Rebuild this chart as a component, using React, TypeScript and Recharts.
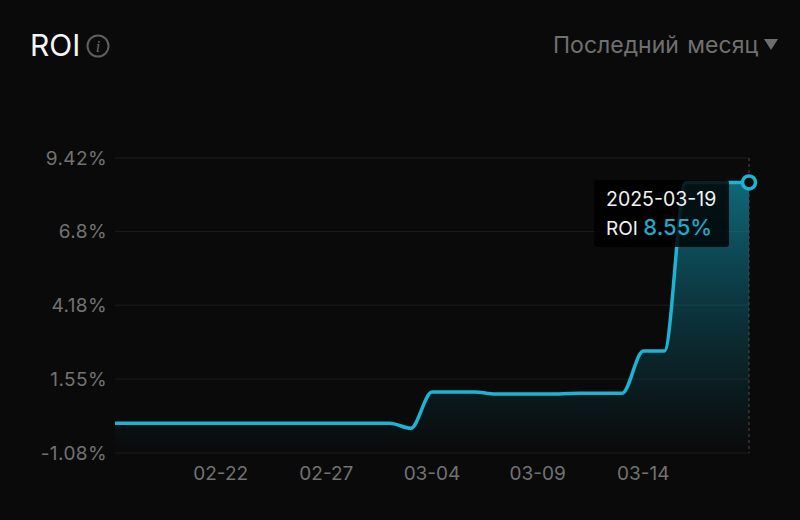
import React from "react";
import {
  AreaChart,
  Area,
  XAxis,
  YAxis,
  CartesianGrid,
  Tooltip,
} from "recharts";

const dates = [
  "2025-02-17", "2025-02-18", "2025-02-19", "2025-02-20", "2025-02-21", "2025-02-22",
  "2025-02-23", "2025-02-24", "2025-02-25", "2025-02-26", "2025-02-27", "2025-02-28",
  "2025-03-01", "2025-03-02", "2025-03-03", "2025-03-04", "2025-03-05", "2025-03-06",
  "2025-03-07", "2025-03-08", "2025-03-09", "2025-03-10", "2025-03-11", "2025-03-12",
  "2025-03-13", "2025-03-14", "2025-03-15", "2025-03-16", "2025-03-17", "2025-03-18",
  "2025-03-19",
];
const roiValues = [
  -0.02, -0.02, -0.02, -0.02, -0.02, -0.02,
  -0.02, -0.02, -0.02, -0.02, -0.02, -0.02,
  -0.02, -0.02, -0.2, 1.09, 1.09, 1.09,
  1.02, 1.02, 1.02, 1.02, 1.05, 1.05,
  1.05, 2.55, 2.55, 8.55, 8.55, 8.55,
  8.55,
];
const xTicks = ["2025-02-22", "2025-02-27", "2025-03-04", "2025-03-09", "2025-03-14"];
const yTicks = [-1.08, 1.55, 4.18, 6.8, 9.42];

const data = dates.map((date, i) => ({ date, roi: roiValues[i] }));

const FONT = "Inter, sans-serif";
const BG = "#0a0a0a";
const CYAN = "#1cb4d2";

const RoiTooltip = ({ active, payload }: any) => {
  if (!active || !payload || !payload.length) return null;
  const point = payload[0].payload;
  return (
    <div
      style={{
        width: 135,
        height: 67,
        boxSizing: "border-box",
        padding: "5px 12px",
        background: "rgba(0,0,0,0.82)",
        borderRadius: 3,
        fontFamily: FONT,
        color: "#f2f2f2",
        fontSize: 19.5,
        lineHeight: "28px",
        whiteSpace: "nowrap",
      }}
    >
      <div>{point.date}</div>
      <div>
        <span style={{ fontSize: 19 }}>ROI</span>{" "}
        <span style={{ color: "#22a9c9", fontSize: 22, fontWeight: 500 }}>{point.roi}%</span>
      </div>
    </div>
  );
};

export default function App() {
  return (
    <div style={{ position: "fixed", left: 0, top: 0, width: 800, height: 520, background: BG, overflow: "hidden" }}>
      <div style={{ position: "absolute", left: 30, top: 27, fontFamily: FONT, fontSize: 30, lineHeight: "36px", color: "#f5f5f5" }}>
        ROI
      </div>
      <svg style={{ position: "absolute", left: 86, top: 34 }} width={24} height={24}>
        <circle cx={12} cy={12} r={10.5} fill="none" stroke="#5e5e5e" strokeWidth={2} />
        <text x={12} y={18} textAnchor="middle" fontFamily="'Liberation Serif', serif" fontStyle="italic" fontSize={16} fill="#6e6e6e">
          i
        </text>
      </svg>
      <div style={{ position: "absolute", left: 553, top: 30, fontFamily: FONT, fontSize: 23, lineHeight: "30px", wordSpacing: 2, color: "#707070", whiteSpace: "nowrap" }}>
        Последний месяц
      </div>
      <svg style={{ position: "absolute", left: 763, top: 38 }} width={16} height={14}>
        <polygon points="1,1 15,1 8,12" fill="#6e6e6e" />
      </svg>
      <div style={{ position: "absolute", left: 0, top: 0 }}>
        <AreaChart
          width={800}
          height={520}
          data={data}
          margin={{ top: 158, right: 51, bottom: 37, left: 0 }}
        >
          <defs>
            <linearGradient id="roiFill" x1="0" y1="0" x2="0" y2="1">
              <stop offset="0%" stopColor="#14a6c2" stopOpacity={1} />
              <stop offset="50%" stopColor="#0f8ea6" stopOpacity={0.5} />
              <stop offset="100%" stopColor="#0a7f96" stopOpacity={0} />
            </linearGradient>
          </defs>
          <CartesianGrid vertical={false} stroke="#1d1d1d" strokeWidth={1} />
          <XAxis
            dataKey="date"
            height={30}
            ticks={xTicks}
            interval={0}
            axisLine={false}
            tickLine={false}
            tickMargin={8}
            tickFormatter={(d: string) => d.slice(5)}
            tick={{ fill: "#727272", fontSize: 19, fontFamily: FONT }}
          />
          <YAxis
            width={115}
            domain={[-1.08, 9.42]}
            ticks={yTicks}
            interval={0}
            axisLine={false}
            tickLine={false}
            tickMargin={2}
            tickFormatter={(v: number) => `${v}%`}
            tick={{ fill: "#727272", fontSize: 19, fontFamily: FONT, letterSpacing: 0.4 }}
          />
          <Tooltip
            active
            defaultIndex={30}
            position={{ x: 594, y: 180 }}
            isAnimationActive={false}
            cursor={{ stroke: "#4a4a4a", strokeWidth: 1, strokeDasharray: "3 3" }}
            content={<RoiTooltip />}
          />
          <Area
            type="monotone"
            dataKey="roi"
            baseValue={-1.08}
            stroke={CYAN}
            strokeWidth={3.5}
            fill="url(#roiFill)"
            dot={false}
            activeDot={{ r: 6.5, fill: BG, stroke: CYAN, strokeWidth: 3.5 }}
            isAnimationActive={false}
          />
        </AreaChart>
      </div>
    </div>
  );
}
